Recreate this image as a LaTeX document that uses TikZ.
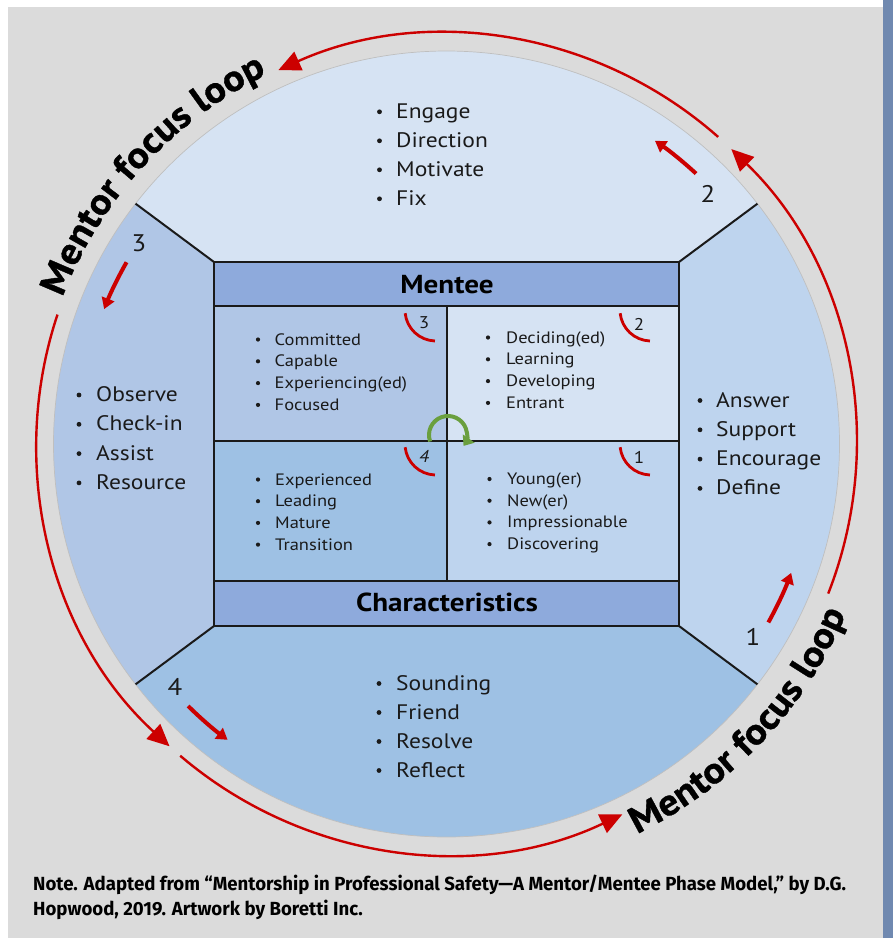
\documentclass[tikz,border=0pt]{standalone}
\usepackage{fontspec}
\setmainfont[FakeStretch=1.12]{PT Sans}
\newfontfamily\notefont[FakeStretch=0.98]{Fira Sans}
\newfontfamily\loopfamily[FakeStretch=1.08,FakeBold=1]{PT Sans}
\usetikzlibrary{arrows.meta,decorations.text}
\definecolor{bggray}{HTML}{DBDBDB}
\definecolor{sidebar}{HTML}{7089B0}
\definecolor{sectop}{HTML}{D6E3F3}
\definecolor{secright}{HTML}{BED4EE}
\definecolor{secbot}{HTML}{9EC1E4}
\definecolor{secleft}{HTML}{B0C6E6}
\definecolor{hdr}{HTML}{8EAADC}
\definecolor{loopred}{HTML}{CC0000}
\definecolor{arrgreen}{HTML}{6A9F3E}
\definecolor{inkblack}{HTML}{1A1A1A}
\newcommand\loopfnt{\loopfamily\bfseries\fontsize{37}{37}\selectfont}
\tikzset{
  divline/.style={draw=inkblack, line width=1.6pt},
  diagline/.style={draw=inkblack, line width=2pt},
  looparc/.style={draw=loopred, line width=2.4pt, -{Triangle[length=22pt,width=20pt]}},
  phasearc/.style={draw=loopred, line width=4pt, -{Triangle[length=11pt,width=13pt]}},
  quadarc/.style={draw=loopred, line width=2.8pt},
  sectxt/.style={anchor=base west, inner sep=0pt, font=\fontsize{21}{21}\selectfont, text=inkblack},
  quadtxt/.style={anchor=base west, inner sep=0pt, font=\fontsize{16.5}{16.5}\selectfont, text=inkblack},
  phasenum/.style={inner sep=0pt, font=\fontsize{24}{24}\selectfont, text=inkblack},
  quadnum/.style={inner sep=0pt, font=\fontsize{17}{17}\selectfont, text=inkblack},
  hdrtxt/.style={anchor=base, inner sep=0pt, font=\fontsize{26}{26}\selectfont\bfseries, text=black},
  notetxt/.style={anchor=base west, inner sep=0pt, font=\notefont\bfseries\fontsize{19}{19}\selectfont, text=black},
}
\begin{document}
\begin{tikzpicture}[x=1pt,y=1pt]
\useasboundingbox (0,0) rectangle (893,-938);
\fill[white] (0,0) rectangle (893,-938);
\fill[bggray] (8,-7) rectangle (883,-938);
\fill[sidebar] (883,0) rectangle (893,-938);

\begin{scope}[shift={(446.5,-444)}]
  % sectors
  \fill[sectop] (-232.5,182) -- (142.3:393) arc[start angle=142.3,end angle=37.7,radius=393] -- (232.5,182) -- cycle;
  \fill[secright] (232.5,182) -- (37.7:393) arc[start angle=37.7,end angle=-37.7,radius=393] -- (232.5,-182) -- cycle;
  \fill[secbot] (232.5,-182) -- (-37.7:393) arc[start angle=-37.7,end angle=-142.3,radius=393] -- (-232.5,-182) -- cycle;
  \fill[secleft] (-232.5,-182) -- (217.7:393) arc[start angle=217.7,end angle=142.3,radius=393] -- (-232.5,182) -- cycle;
  \draw[draw=black!25, line width=0.7pt] (0,0) circle[radius=393];
  % rectangle corners and circle points
  \coordinate (rTL) at (-232.5,182);
  \coordinate (rTR) at (232.5,182);
  \coordinate (rBL) at (-232.5,-182);
  \coordinate (rBR) at (232.5,-182);
  \coordinate (cTL) at (142.3:393);
  \coordinate (cTR) at (37.7:393);
  \coordinate (cBL) at (217.7:393);
  \coordinate (cBR) at (-37.7:393);
  \draw[diagline] (rTL) -- (cTL);
  \draw[diagline] (rTR) -- (cTR);
  \draw[diagline] (rBL) -- (cBL);
  \draw[diagline] (rBR) -- (cBR);
  % quadrants and headers
  \fill[secleft] (-232.5,138) rectangle (0.5,3);
  \fill[sectop] (0.5,138) rectangle (232.5,3);
  \fill[secbot] (-232.5,3) rectangle (0.5,-137);
  \fill[secright] (0.5,3) rectangle (232.5,-137);
  \fill[hdr] (-232.5,182) rectangle (232.5,138);
  \fill[hdr] (-232.5,-137) rectangle (232.5,-182);
  \draw[divline] (-232.5,138) -- (232.5,138);
  \draw[divline] (-232.5,-137) -- (232.5,-137);
  \draw[divline] (-232.5,3) -- (232.5,3);
  \draw[divline] (0.5,138) -- (0.5,-137);
  \draw[divline] (rTL) rectangle (rBR);

  % loop arcs
  \draw[looparc] (-21.4:410) arc[start angle=-21.4,end angle=46,radius=410];
  \draw[looparc] (48.5:410) arc[start angle=48.5,end angle=114.2,radius=410];
  \draw[looparc] (161.6:410) arc[start angle=161.6,end angle=227.5,radius=410];
  \draw[looparc] (229.5:410) arc[start angle=229.5,end angle=295.4,radius=410];
  % loop texts
  \path[decorate, decoration={text along path, text align=center,
      text={|\loopfnt|Mentor focus loop}}]
      (172:411) arc[start angle=172,end angle=103,radius=411];
  \path[decorate, decoration={text along path, text align=center,
      text={|\loopfnt|Mentor focus loop}}]
      (282:434) arc[start angle=282,end angle=351,radius=434];
  % phase arrows
  \draw[phasearc] (47.3:368) arc[start angle=47.3,end angle=55.5,radius=368];
  \draw[phasearc] (150.4:368) arc[start angle=150.4,end angle=158.5,radius=368];
  \draw[phasearc] (225.4:368) arc[start angle=225.4,end angle=233.5,radius=368];
  \draw[phasearc] (331:368) arc[start angle=331,end angle=339.5,radius=368];
\end{scope}

% phase numbers
\node[phasenum] (n2) at (708,-194) {2};
\node[phasenum] (n3) at (139,-243) {3};
\node[phasenum] (n4) at (175,-687) {4};
\node[phasenum] (n1) at (753,-637) {1};

% headers
\node[hdrtxt] (mentee) at (447,-293.3) {Mentee};
\node[hdrtxt] (charac) at (447,-611.7) {Characteristics};

% sector lists
\foreach \t [count=\i from 0] in {Engage,Direction,Motivate,Fix}{
  \node[sectxt] (top\i) at (396,{-118.3-29*\i}) {\t};
  \fill[inkblack] (379.5,{-111.8-29*\i}) circle[radius=2.4];
}
\foreach \t [count=\i from 0] in {Observe,Check-in,Assist,Resource}{
  \node[sectxt] (left\i) at (96,{-401.5-29.3*\i}) {\t};
  \fill[inkblack] (79,{-395-29.3*\i}) circle[radius=2.4];
}
\foreach \t [count=\i from 0] in {Answer,Support,Encourage,Define}{
  \node[sectxt] (right\i) at (716,{-407-29.3*\i}) {\t};
  \fill[inkblack] (700,{-400.5-29.3*\i}) circle[radius=2.4];
}
\foreach \t [count=\i from 0] in {Sounding,Friend,Resolve,Reflect}{
  \node[sectxt] (bot\i) at (396,{-690-29*\i}) {\t};
  \fill[inkblack] (379,{-683.5-29*\i}) circle[radius=2.4];
}
% quadrant lists
\foreach \t [count=\i from 0] in {Committed,Capable,Experiencing(ed),Focused}{
  \node[quadtxt] (qa\i) at (274.5,{-345-21.8*\i}) {\t};
  \fill[inkblack] (258,{-339.5-21.8*\i}) circle[radius=2.1];
}
\foreach \t [count=\i from 0] in {Deciding(ed),Learning,Developing,Entrant}{
  \node[quadtxt] (qb\i) at (506,{-343-21.8*\i}) {\t};
  \fill[inkblack] (488,{-337.5-21.8*\i}) circle[radius=2.1];
}
\foreach \t [count=\i from 0] in {Experienced,Leading,Mature,Transition}{
  \node[quadtxt] (qc\i) at (275,{-485-21.7*\i}) {\t};
  \fill[inkblack] (258,{-479.5-21.7*\i}) circle[radius=2.1];
}
\foreach \t [count=\i from 0] in {Young(er),New(er),Impressionable,Discovering}{
  \node[quadtxt] (qd\i) at (507,{-484.5-21.7*\i}) {\t};
  \fill[inkblack] (489.5,{-479-21.7*\i}) circle[radius=2.1];
}

% quadrant arcs and numbers
\draw[quadarc] (436,-310) ++(186:31) arc[start angle=186,end angle=268,radius=31];
\draw[quadarc] (651,-310) ++(186:31) arc[start angle=186,end angle=268,radius=31];
\draw[quadarc] (436,-444) ++(186:31) arc[start angle=186,end angle=268,radius=31];
\draw[quadarc] (651,-444) ++(186:31) arc[start angle=186,end angle=268,radius=31];
\node[quadnum] (q3) at (424,-323) {3};
\node[quadnum] (q2) at (639,-324) {2};
\node[quadnum] (q4) at (424,-456) {\itshape 4};
\node[quadnum] (q1) at (639,-457) {1};

% green cycle arrow
\draw[draw=arrgreen, line width=4pt, -{Triangle[length=9pt,width=14pt]}]
  (448,-435) ++(200:19) arc[start angle=200,end angle=-35,radius=19];

% note
\node[notetxt] (note1) at (33,-890) {Note. Adapted from “Mentorship in Professional Safety—A Mentor/Mentee Phase Model,” by D.G.};
\node[notetxt] (note2) at (33,-915) {Hopwood, 2019. Artwork by Boretti Inc.};
\end{tikzpicture}
\end{document}
